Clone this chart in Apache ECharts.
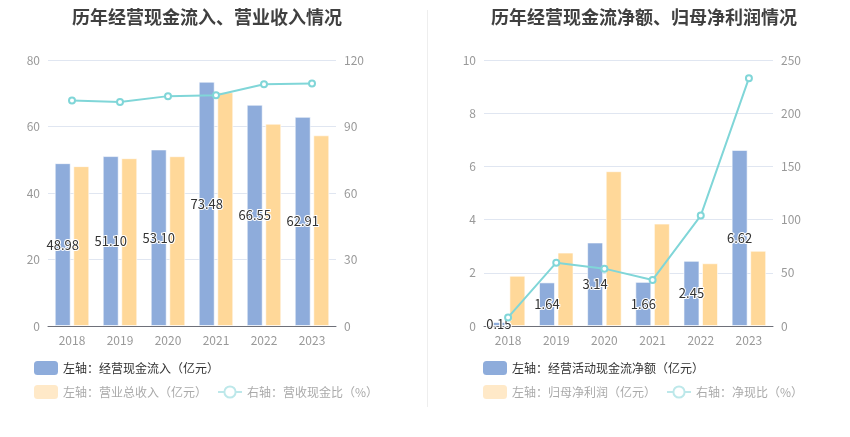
<!DOCTYPE html>
<html><head><meta charset="utf-8">
<script src="https://cdn.jsdelivr.net/npm/echarts@6/dist/echarts.min.js"></script>
<style>html,body{margin:0;padding:0;background:#fff}#c{width:850px;height:437px}</style>
</head><body><div id="c"></div>
<script>
const years = ['2018','2019','2020','2021','2022','2023'];
const cashInflow = [48.98, 51.10, 53.10, 73.48, 66.55, 62.91];
const revenue = [48.08, 50.47, 51.07, 70.3, 60.85, 57.36];
const cashRevRatio = [101.7, 101.0, 103.7, 104.1, 109.1, 109.4];
const netCashFlow = [0.15, 1.64, 3.14, 1.66, 2.45, 6.62];
const netProfit = [1.89, 2.76, 5.82, 3.85, 2.36, 2.83];
const netCashRatio = [8.1, 59.5, 53.9, 43.3, 103.8, 232.9];

const BLUE = '#8eacdb', ORANGE = '#ffd899', CYAN = '#80d6d8';
const FONT = '"Noto Sans CJK SC", sans-serif';
const chart = echarts.init(document.getElementById('c'));

function valAxis(gi, max, interval, pos, showSplit) {
  return {
    type: 'value', gridIndex: gi, min: 0, max: max, interval: interval, position: pos,
    axisLine: {show: false}, axisTick: {show: false},
    axisLabel: {color: '#999', fontSize: 12, margin: 8, fontFamily: FONT},
    splitLine: {show: showSplit, lineStyle: {color: '#e0e6f1'}}
  };
}
function catAxis(gi) {
  return {
    type: 'category', gridIndex: gi, data: years,
    axisLine: {lineStyle: {color: '#6e7079'}},
    axisTick: {alignWithLabel: true, lineStyle: {color: '#6e7079'}},
    axisLabel: {color: '#999', fontSize: 12, margin: 8, fontFamily: FONT}
  };
}
const barLabel = {show: true, position: 'inside', color: '#333', fontSize: 13, fontFamily: FONT,
  textBorderColor: '#fff', textBorderWidth: 2, formatter: p => p.value.toFixed(2)};
const barBorder = {borderColor: 'rgba(255,255,255,0.6)', borderWidth: 1};

function legendRow(items, left, top) {
  return {
    left: left, top: top, padding: 0, itemWidth: 24, itemHeight: 14, itemGap: 10,
    selectedMode: false,
    data: items,
    textStyle: {fontSize: 12, fontFamily: FONT}
  };
}
function barItem(name, color, textColor) {
  return {name: name, icon: 'roundRect', itemStyle: {color: color, borderWidth: 0}, textStyle: {color: textColor}};
}
function lineItem(name) {
  return {name: name, itemStyle: {color: '#bde8ea', borderColor: '#bde8ea', borderWidth: 2},
    lineStyle: {color: '#bde8ea', width: 2, type: 'solid'}, textStyle: {color: '#aaa'}};
}

chart.setOption({
  animation: false,
  textStyle: {fontFamily: FONT},
  title: [
    {text: '历年经营现金流入、营业收入情况', left: 67, top: 3,
     textStyle: {fontSize: 18, fontWeight: 'bold', color: '#404040', fontFamily: FONT}},
    {text: '历年经营现金流净额、归母净利润情况', left: 486, top: 3,
     textStyle: {fontSize: 18, fontWeight: 'bold', color: '#404040', fontFamily: FONT}}
  ],
  legend: [
    legendRow([barItem('左轴：经营现金流入（亿元）', BLUE, '#333')], 34, 361),
    legendRow([barItem('左轴：营业总收入（亿元）', '#ffe9c8', '#aaa'), lineItem('右轴：营收现金比（%）')], 34, 385),
    legendRow([barItem('左轴：经营活动现金流净额（亿元）', BLUE, '#333')], 483, 361),
    legendRow([barItem('左轴：归母净利润（亿元）', '#ffe9c8', '#aaa'), lineItem('右轴：净现比（%）')], 483, 385)
  ],
  grid: [
    {left: 48, right: 514, top: 60, bottom: 111},
    {left: 484, right: 77, top: 60, bottom: 111}
  ],
  xAxis: [catAxis(0), catAxis(1)],
  yAxis: [
    valAxis(0, 80, 20, 'left', true),
    valAxis(0, 120, 30, 'right', false),
    valAxis(1, 10, 2, 'left', true),
    valAxis(1, 250, 50, 'right', false)
  ],
  graphic: [{type: 'line', shape: {x1: 427.5, y1: 10, x2: 427.5, y2: 407},
    style: {stroke: '#eeeeee', lineWidth: 1}}],
  series: [
    {name: '左轴：经营现金流入（亿元）', type: 'bar', xAxisIndex: 0, yAxisIndex: 0, data: cashInflow,
     barWidth: 16, barGap: '16%', itemStyle: Object.assign({color: BLUE}, barBorder), label: barLabel, z: 2},
    {name: '左轴：营业总收入（亿元）', type: 'bar', xAxisIndex: 0, yAxisIndex: 0, data: revenue,
     barWidth: 16, barGap: '16%', itemStyle: Object.assign({color: ORANGE}, barBorder)},
    {name: '右轴：营收现金比（%）', type: 'line', xAxisIndex: 0, yAxisIndex: 1, data: cashRevRatio,
     symbol: 'emptyCircle', symbolSize: 6, lineStyle: {color: CYAN, width: 2},
     itemStyle: {color: CYAN, borderWidth: 2}, z: 5},
    {name: '左轴：经营活动现金流净额（亿元）', type: 'bar', xAxisIndex: 1, yAxisIndex: 2, data: netCashFlow,
     barWidth: 16, barGap: '16%', itemStyle: Object.assign({color: BLUE}, barBorder), label: barLabel, z: 2},
    {name: '左轴：归母净利润（亿元）', type: 'bar', xAxisIndex: 1, yAxisIndex: 2, data: netProfit,
     barWidth: 16, barGap: '16%', itemStyle: Object.assign({color: ORANGE}, barBorder)},
    {name: '右轴：净现比（%）', type: 'line', xAxisIndex: 1, yAxisIndex: 3, data: netCashRatio,
     symbol: 'emptyCircle', symbolSize: 6, lineStyle: {color: CYAN, width: 2},
     itemStyle: {color: CYAN, borderWidth: 2}, z: 5}
  ]
});
</script></body></html>
